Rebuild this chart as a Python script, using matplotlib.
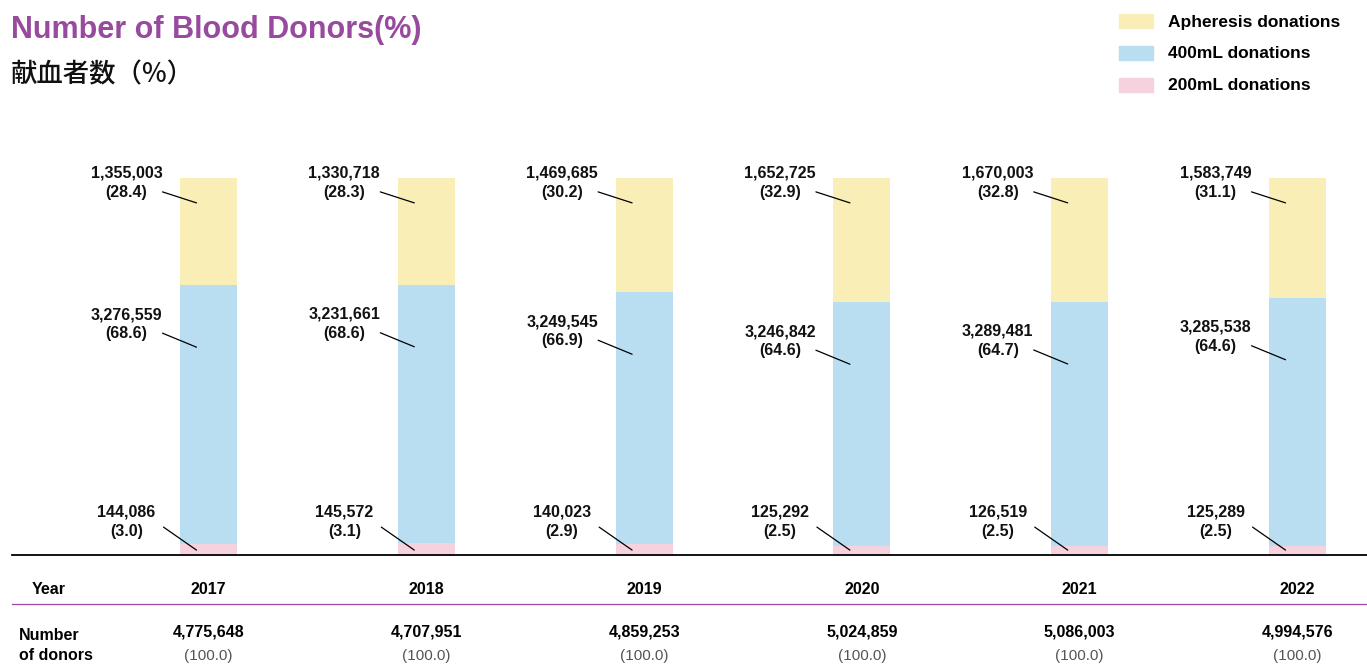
import matplotlib
matplotlib.use('Agg')
import matplotlib.pyplot as plt
import matplotlib.transforms as mtransforms

plt.rcParams['font.family'] = ['Liberation Sans', 'DejaVu Sans']

# data
years = ['2017', '2018', '2019', '2020', '2021', '2022']
apheresis = [1355003, 1330718, 1469685, 1652725, 1670003, 1583749]
apheresis_pct = [28.4, 28.3, 30.2, 32.9, 32.8, 31.1]
ml400 = [3276559, 3231661, 3249545, 3246842, 3289481, 3285538]
ml400_pct = [68.6, 68.6, 66.9, 64.6, 64.7, 64.6]
ml200 = [144086, 145572, 140023, 125292, 126519, 125289]
ml200_pct = [3.0, 3.1, 2.9, 2.5, 2.5, 2.5]
totals = [4775648, 4707951, 4859253, 5024859, 5086003, 4994576]

c_yellow = '#FAEEB7'
c_blue = '#B9DEF2'
c_pink = '#F6D1DE'
c_purple = '#984A9E'

W, H = 1367, 672
fig = plt.figure(figsize=(W / 100, H / 100), dpi=100)

def fx(px):
    return px / W

def fy(py):
    return 1 - py / H

ax = fig.add_axes([fx(12), fy(555), fx(1355), 377 / H])
ax.set_xlim(-0.902, 5.319)
ax.set_ylim(0, 100)

# bar heights as share of each year's total
h200 = [a / t * 100 for a, t in zip(ml200, totals)]
h400 = [a / t * 100 for a, t in zip(ml400, totals)]
hap = [a / t * 100 for a, t in zip(apheresis, totals)]
base3 = [a + b for a, b in zip(h200, h400)]

x = list(range(len(years)))
bw = 0.262
ax.bar(x, h200, width=bw, color=c_pink)
ax.bar(x, h400, width=bw, bottom=h200, color=c_blue)
ax.bar(x, hap, width=bw, bottom=base3, color=c_yellow)

for s in ['top', 'left', 'right']:
    ax.spines[s].set_visible(False)
ax.spines['bottom'].set_linewidth(1.3)
ax.spines['bottom'].set_color('black')
ax.set_xticks([])
ax.set_yticks([])

fs = 11.5
lab_font = dict(fontsize=fs, fontweight='bold', color='#111111')

def label(i, yend, count, pct, start, text_off):
    xe = i - 0.055
    ax.annotate('', xy=(xe, yend), xytext=start, textcoords='offset pixels',
                arrowprops=dict(arrowstyle='-', color='black', lw=0.9,
                                shrinkA=0, shrinkB=0), annotation_clip=False)
    ax.annotate(f'{count:,}\n({pct:.1f})', xy=(xe, yend), xytext=text_off,
                textcoords='offset pixels', ha='center', va='center',
                linespacing=1.35, annotation_clip=False, **lab_font)

for i in x:
    label(i, 93.4, apheresis[i], apheresis_pct[i], (-34, 11), (-70, 20))
    label(i, base3[i] - 16.5, ml400[i], ml400_pct[i], (-34, 14), (-70, 23))
    label(i, 1.3, ml200[i], ml200_pct[i], (-33, 23), (-70, 28))

# table under the chart
tr = mtransforms.blended_transform_factory(ax.transData, fig.transFigure)
fig.text(fx(49), fy(590), 'Year', ha='center', va='center', fontsize=fs, fontweight='bold')
fig.text(fx(19), fy(636), 'Number', ha='left', va='center', fontsize=fs, fontweight='bold')
fig.text(fx(19), fy(656), 'of donors', ha='left', va='center', fontsize=fs, fontweight='bold')
for i in x:
    ax.text(i, fy(590), years[i], transform=tr, ha='center', va='center',
            fontsize=fs, fontweight='bold')
    ax.text(i, fy(632), f'{totals[i]:,}', transform=tr, ha='center', va='center',
            fontsize=fs, fontweight='bold')
    ax.text(i, fy(656), '(100.0)', transform=tr, ha='center', va='center',
            fontsize=11, color='#555555')
fig.add_artist(plt.Line2D([fx(12), 1], [fy(604), fy(604)], color='#A046A6', lw=0.9))

# title
fig.text(fx(11), fy(30), 'Number of Blood Donors(%)', ha='left', va='center',
         fontsize=22, fontweight='bold', color=c_purple)
fig.text(fx(11), fy(75), '献血者数（%）', ha='left', va='center', fontsize=19,
         fontweight='medium', family=['Noto Sans CJK JP', 'DejaVu Sans'],
         color='#111111')

# legend
leg = [('Apheresis donations', c_yellow), ('400mL donations', c_blue), ('200mL donations', c_pink)]
for k, (name, col) in enumerate(leg):
    yc = 21 + 32 * k
    fig.add_artist(plt.Rectangle((fx(1119), fy(yc + 7)), 34 / W, 14 / H, color=col))
    fig.text(fx(1168), fy(yc + 1), name, ha='left', va='center', fontsize=12.5,
             fontweight='bold')

fig.savefig('out.png', dpi=100)
